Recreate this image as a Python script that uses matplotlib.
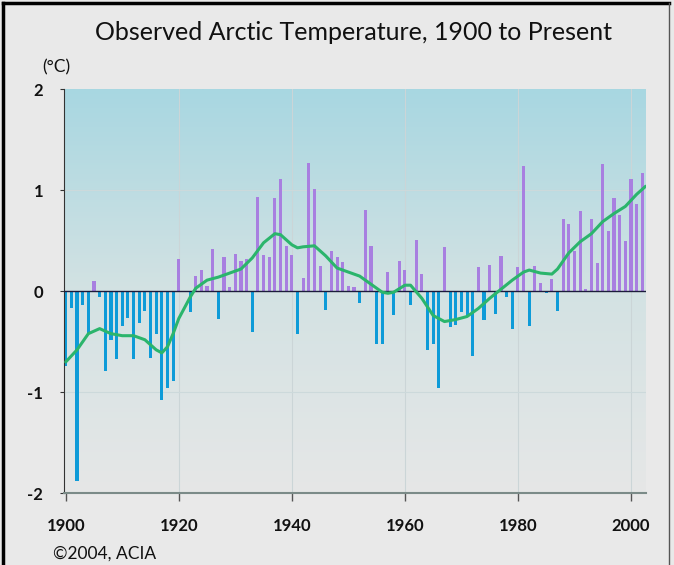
import numpy as np
import matplotlib
matplotlib.use('Agg')
import matplotlib.pyplot as plt
from matplotlib.colors import LinearSegmentedColormap
from matplotlib.lines import Line2D

# annual arctic temperature anomaly (deg C)
years = list(range(1900, 2003))
anomaly = [
    -0.74, -0.17, -1.88, -0.14, -0.42, 0.10, -0.06, -0.79, -0.48, -0.67,
    -0.34, -0.26, -0.67, -0.31, -0.20, -0.66, -0.42, -1.08, -0.96, -0.89,
    0.32, 0.00, -0.21, 0.15, 0.21, 0.05, 0.42, -0.27, 0.34, 0.04,
    0.37, 0.30, 0.32, -0.40, 0.93, 0.36, 0.34, 0.92, 1.11, 0.45,
    0.36, -0.42, 0.13, 1.27, 1.01, 0.25, -0.19, 0.40, 0.34, 0.29,
    0.05, 0.04, -0.12, 0.80, 0.45, -0.52, -0.52, 0.19, -0.24, 0.30,
    0.21, -0.14, 0.51, 0.17, -0.58, -0.52, -0.96, 0.44, -0.35, -0.33,
    -0.21, -0.25, -0.64, 0.24, -0.28, 0.26, -0.23, 0.35, -0.06, -0.37,
    0.24, 1.24, -0.34, 0.25, 0.08, -0.02, 0.12, -0.20, 0.72, 0.67,
    0.40, 0.79, 0.02, 0.72, 0.28, 1.26, 0.60, 0.92, 0.76, 0.50,
    1.11, 0.86, 1.17,
]

# smoothed curve (green line)
smooth_years = [1900, 1902, 1904, 1906, 1908, 1910, 1912, 1914, 1916, 1917,
                1918, 1919, 1920, 1922, 1923, 1925, 1927, 1929, 1931, 1933,
                1935, 1937, 1938, 1940, 1941, 1942, 1944, 1946, 1948, 1950,
                1952, 1954, 1956, 1957, 1958, 1960, 1961, 1963, 1965, 1967,
                1969, 1971, 1973, 1975, 1977, 1979, 1981, 1982, 1984, 1986,
                1987, 1989, 1991, 1993, 1995, 1997, 1999, 2001, 2002.6]
smooth_vals = [-0.70, -0.58, -0.42, -0.37, -0.42, -0.44, -0.44, -0.48, -0.58, -0.61,
               -0.55, -0.42, -0.27, -0.06, 0.03, 0.11, 0.14, 0.18, 0.22, 0.33,
               0.48, 0.57, 0.56, 0.46, 0.43, 0.44, 0.45, 0.35, 0.23, 0.19,
               0.15, 0.07, -0.01, -0.02, -0.01, 0.06, 0.06, -0.07, -0.24, -0.30,
               -0.28, -0.25, -0.17, -0.07, 0.02, 0.11, 0.19, 0.21, 0.18, 0.17,
               0.22, 0.38, 0.49, 0.57, 0.69, 0.77, 0.84, 0.96, 1.04]

xticks = [1900, 1920, 1940, 1960, 1980, 2000]
yticks = [-2, -1, 0, 1, 2]

fig = plt.figure(figsize=(6.74, 5.65), dpi=100, facecolor='#e9e9e9')
ax = fig.add_axes([0.095, 0.127, 0.863, 0.715])

# background gradient, light blue at top to grey at bottom
cmap = LinearSegmentedColormap.from_list('bg', ['#e6e7e7', '#d3e2e3', '#a8d7e1'])
grad = np.linspace(0, 1, 256).reshape(-1, 1)
ax.imshow(grad, extent=[0, 1, 0, 1], transform=ax.transAxes, aspect='auto',
          cmap=cmap, origin='lower', zorder=0)

for x in xticks[1:]:
    ax.axvline(x, color='#cbd5d7', lw=0.8, zorder=1)
for y in [-1, 1]:
    ax.axhline(y, color='#ccd9db', lw=0.8, zorder=1)

colors = ['#a87fe0' if v > 0 else '#0e9bd8' for v in anomaly]
ax.bar(years, anomaly, width=0.55, color=colors, zorder=2)
ax.axhline(0, color='#1c1c3c', lw=1.0, zorder=3)
ax.plot(smooth_years, smooth_vals, color='#2bb56c', lw=2.2, zorder=4,
        solid_joinstyle='round', solid_capstyle='round')

ax.set_xlim(1899.7, 2002.6)
ax.set_ylim(-2, 2)
ax.set_xticks(xticks)
ax.set_yticks(yticks)
ax.set_yticklabels(['-2', '-1', '0', '1', '2'])

for s in ['top', 'right']:
    ax.spines[s].set_visible(False)
ax.spines['left'].set_color('#333333')
ax.spines['bottom'].set_color('#7b8b88')
ax.spines['bottom'].set_linewidth(1.5)
ax.tick_params(axis='x', length=6, color='#555555', width=1, pad=12,
               labelsize=12, labelcolor='#111111')
ax.tick_params(axis='y', length=3, color='#333333', pad=12,
               labelsize=12, labelcolor='#111111')
for lab in ax.get_xticklabels() + ax.get_yticklabels():
    lab.set_fontfamily(['Lato', 'DejaVu Sans'])
    lab.set_fontweight('bold')

fig.text(0.524, 0.943, 'Observed Arctic Temperature, 1900 to Present',
         ha='center', va='center', fontsize=18, color='#111111',
         family=['Lato', 'DejaVu Sans'])
fig.text(0.062, 0.880, '(°C)', ha='left', va='center', fontsize=12.5,
         color='#111111', family=['Lato', 'DejaVu Sans'])
fig.text(0.079, 0.021, '©2004, ACIA', ha='left', va='center', fontsize=12.5,
         color='#111111', family=['Lato', 'DejaVu Sans'])

# frame lines on the figure edge
fig.add_artist(Line2D([0.005, 0.005], [0, 0.995], color='black', lw=2.5,
                      transform=fig.transFigure))
fig.add_artist(Line2D([0.005, 0.992], [0.995, 0.995], color='black', lw=2.5,
                      transform=fig.transFigure))
fig.add_artist(Line2D([0.992, 0.992], [0, 0.995], color='#555555', lw=1,
                      transform=fig.transFigure))

fig.savefig('out.png', dpi=100, facecolor=fig.get_facecolor())
